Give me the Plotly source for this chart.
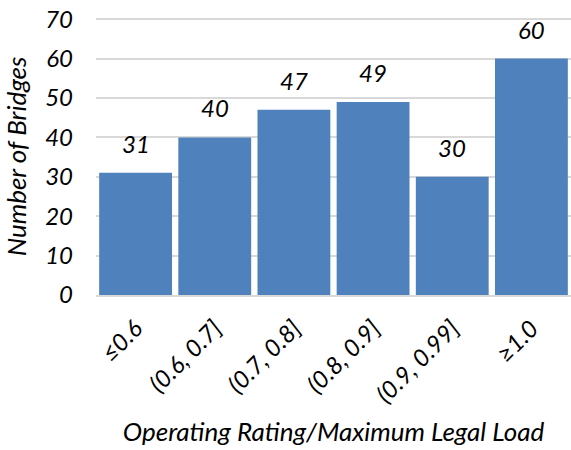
import plotly.graph_objects as go

categories = ["≤0.6", "(0.6, 0.7]", "(0.7, 0.8]", "(0.8, 0.9]", "(0.9, 0.99]", "≥1.0"]
counts = [31, 40, 47, 49, 30, 60]
y_ticks = [0, 10, 20, 30, 40, 50, 60, 70]

FONT = "Lato"
font = dict(family=FONT, size=24, color="#000000", style="italic")
title_font = dict(family=FONT, size=26, color="#000000", style="italic")

fig = go.Figure()
fig.add_trace(go.Bar(
    x=categories, y=counts,
    marker=dict(color="#4F81BD", line=dict(width=0)),
    hoverinfo="skip",
))
for c, v in zip(categories, counts):
    fig.add_annotation(x=c, y=v, text=str(v), showarrow=False,
                       yanchor="bottom", yshift=13, font=font)

fig.update_layout(
    width=571, height=450,
    margin=dict(l=96, r=0, t=18, b=155),
    paper_bgcolor="white", plot_bgcolor="white",
    bargap=0.08,
    showlegend=False,
    font=font,
)
fig.update_xaxes(
    tickangle=-45, tickfont=font, showgrid=False, automargin=False,
    showline=True, linecolor="#D9D9D9", linewidth=2,
    ticklabelstandoff=8,
    title=dict(text="Operating Rating/Maximum Legal Load", font=title_font, standoff=16),
    ticks="",
)
fig.update_yaxes(
    range=[0, 70.3], tickvals=y_ticks, tickfont=font, automargin=False,
    showgrid=True, gridcolor="#D9D9D9", gridwidth=1.5,
    zeroline=False, showline=False, ticks="",
    ticklabelstandoff=22, ticklabeloverflow="allow",
    title=dict(text="Number of Bridges", font=title_font, standoff=20),
)
fig.write_html(
    "out.html",
    config={"displayModeBar": False},
    post_script="document.body.style.margin='0';",
)
